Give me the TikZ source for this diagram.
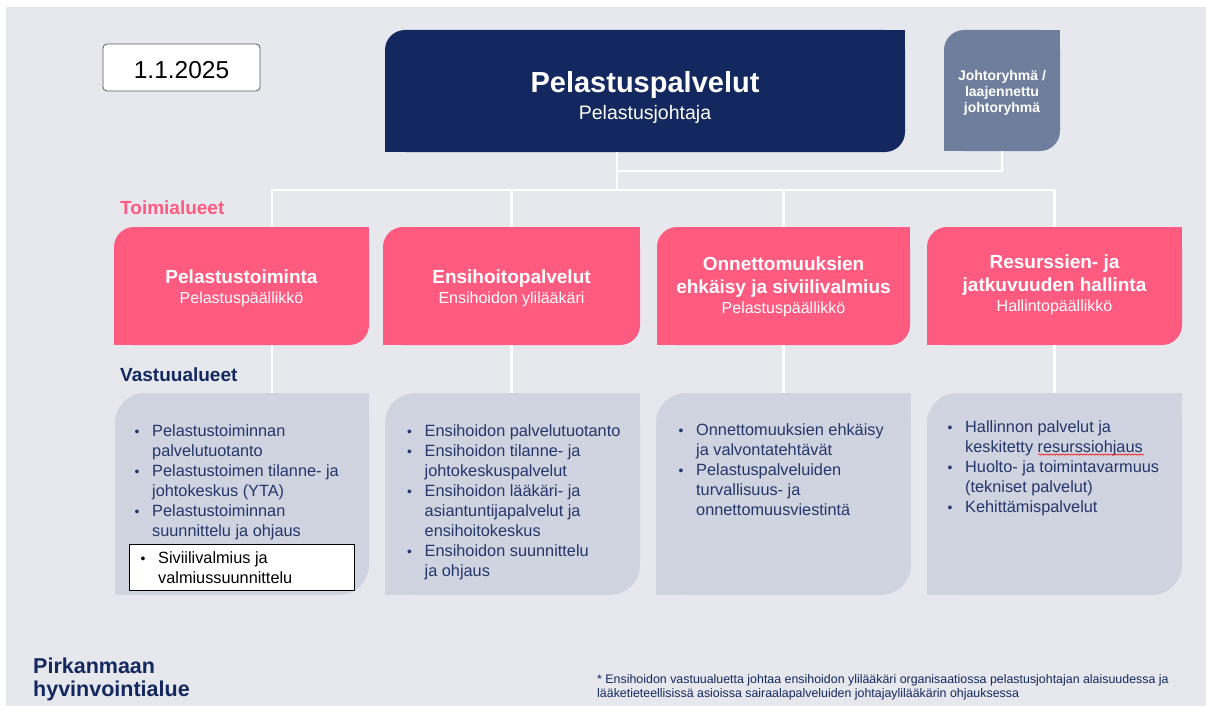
\documentclass[tikz,border=0pt]{standalone}
\usepackage{fontspec}
\setmainfont{Liberation Sans}
\usepackage{graphicx}
\usetikzlibrary{decorations.pathmorphing}
\definecolor{bgc}{HTML}{E7E8EE}
\definecolor{navyc}{HTML}{13285E}
\definecolor{jrc}{HTML}{6F7E9C}
\definecolor{pinkc}{HTML}{FF5A80}
\definecolor{grayc}{HTML}{D0D4E0}
\definecolor{txtc}{HTML}{24366A}
\newcommand\bl{\makebox[16pt][l]{\hspace*{-1.5pt}\scalebox{0.85}{\textbullet}}}
\begin{document}
\begin{tikzpicture}[x=1pt,y=-1pt,
  box/.style 2 args={rectangle,inner sep=0pt,outer sep=0pt,minimum width=#1,minimum height=#2},
  tlbr/.style 2 args={path picture={
    \fill[#1,rounded corners=#2] (path picture bounding box.south west) rectangle (path picture bounding box.north east);
    \fill[#1] (path picture bounding box.north east) rectangle ++(-#2,-#2);
    \fill[#1] (path picture bounding box.south west) rectangle ++(#2,#2);}},
  conn/.style={draw=white,line width=2.2pt},
  ttl/.style={text=white,font=\fontsize{19}{23}\selectfont\bfseries,anchor=base,inner sep=0pt},
  sub/.style={text=white,font=\fontsize{16}{20}\selectfont,anchor=base,inner sep=0pt},
  jrt/.style={text=white,font=\fontsize{14}{17}\selectfont\bfseries,anchor=base,inner sep=0pt},
  lst/.style={text=txtc,font=\fontsize{16.3}{20}\selectfont,anchor=base west,inner sep=0pt},
  hdr/.style={font=\fontsize{19}{23}\selectfont\bfseries,anchor=base west,inner sep=0pt},
  foot/.style={text=navyc,font=\fontsize{21.5}{23}\selectfont\bfseries,anchor=base west,inner sep=0pt},
  note/.style={text=navyc,font=\fontsize{12.4}{14}\selectfont,anchor=base west,inner sep=0pt}
]
\useasboundingbox (0,0) rectangle (1206,706);
\fill[white] (0,0) rectangle (1206,706);
\fill[bgc] (6,7) rectangle (1206,706);

% date
\node[box={157pt}{47pt},fill=white,draw=black!65,line width=0.8pt,rounded corners=4pt] (date) at (181.5,67.5) {};
\node[anchor=base,inner sep=0pt,font=\fontsize{24.5}{26}\selectfont] (dateT) at (181.5,79) {1.1.2025};

% main
\node[box={520pt}{122pt},tlbr={navyc}{20pt}] (main) at (645,91) {};
\node[text=white,anchor=base,inner sep=0pt,font=\fontsize{29}{32}\selectfont\bfseries] (mainA) at (645,93) {Pelastuspalvelut};
\node[text=white,anchor=base,inner sep=0pt,font=\fontsize{19.5}{22}\selectfont] (mainB) at (645,119) {Pelastusjohtaja};

% johtoryhma
\node[box={116pt}{121pt},tlbr={jrc}{20pt}] (jr) at (1002,90.5) {};
\node[jrt] (jrA) at (1002,81) {Johtoryhmä /};
\node[jrt] (jrB) at (1002,97) {laajennettu};
\node[jrt] (jrC) at (1002,113) {johtoryhmä};

% pink boxes
\node[box={255pt}{118pt},tlbr={pinkc}{20pt}] (p1) at (241.5,286) {};
\node[box={257pt}{118pt},tlbr={pinkc}{20pt}] (p2) at (511.5,286) {};
\node[box={253pt}{118pt},tlbr={pinkc}{20pt}] (p3) at (783.5,286) {};
\node[box={255pt}{118pt},tlbr={pinkc}{20pt}] (p4) at (1054.5,286) {};

\node[ttl] (p1a) at (241.5,283) {Pelastustoiminta};
\node[sub] (p1b) at (241.5,303) {Pelastuspäällikkö};
\node[ttl] (p2a) at (511.5,283) {Ensihoitopalvelut};
\node[sub] (p2b) at (511.5,303) {Ensihoidon ylilääkäri};
\node[ttl] (p3a) at (783.5,270) {Onnettomuuksien};
\node[ttl] (p3b) at (783.5,293) {ehkäisy ja siviilivalmius};
\node[sub] (p3c) at (783.5,313) {Pelastuspäällikkö};
\node[ttl] (p4a) at (1054.5,268) {Resurssien- ja};
\node[ttl] (p4b) at (1054.5,291) {jatkuvuuden hallinta};
\node[sub] (p4c) at (1054.5,311) {Hallintopäällikkö};

% gray boxes
\node[box={254pt}{202pt},tlbr={grayc}{30pt}] (g1) at (242,494) {};
\node[box={255pt}{202pt},tlbr={grayc}{30pt}] (g2) at (512.5,494) {};
\node[box={255pt}{202pt},tlbr={grayc}{30pt}] (g3) at (783.5,494) {};
\node[box={255pt}{202pt},tlbr={grayc}{30pt}] (g4) at (1054.5,494) {};

% connectors
\coordinate (hub) at (617,190);
\coordinate (jrjoin) at (617,171);
\coordinate (x1) at (272,0);
\draw[conn] (main.south -| hub) -- (hub);
\draw[conn] (jr.south) |- (jrjoin);
\draw[conn] (p1.north -| x1) |- (hub) -| (p4.north);
\draw[conn] (hub -| p2.north) -- (p2.north);
\draw[conn] (hub -| p3.north) -- (p3.north);
\draw[conn] (p1.south -| x1) -- (g1.north -| x1);
\draw[conn] (p2.south) -- (p2.south |- g2.north);
\draw[conn] (p3.south) -- (p3.south |- g3.north);
\draw[conn] (p4.south) -- (p4.south |- g4.north);

% headers
\node[hdr,text=pinkc] (toim) at (120,214) {Toimialueet};
\node[hdr,text=navyc] (vast) at (120,381) {Vastuualueet};

% lists
\node[lst] (l1) at (136,436) {\begin{tabular}[t]{@{}l@{}l@{}}\bl&Pelastustoiminnan\\&palvelutuotanto\\\bl&Pelastustoimen tilanne- ja\\&johtokeskus (YTA)\\\bl&Pelastustoiminnan\\&suunnittelu ja ohjaus\end{tabular}};
\node[box={225pt}{46pt},fill=white,draw=black,line width=0.8pt] (wb) at (241.5,567) {};
\node[lst,text=black] (l1b) at (142,563) {\begin{tabular}[t]{@{}l@{}l@{}}\bl&Siviilivalmius ja\\&valmiussuunnittelu\end{tabular}};
\node[lst] (l2) at (408.5,436) {\begin{tabular}[t]{@{}l@{}l@{}}\bl&Ensihoidon palvelutuotanto\\\bl&Ensihoidon tilanne- ja\\&johtokeskuspalvelut\\\bl&Ensihoidon lääkäri- ja\\&asiantuntijapalvelut ja\\&ensihoitokeskus\\\bl&Ensihoidon suunnittelu\\&ja ohjaus\end{tabular}};
\node[lst] (l3) at (680,435) {\begin{tabular}[t]{@{}l@{}l@{}}\bl&Onnettomuuksien ehkäisy\\&ja valvontatehtävät\\\bl&Pelastuspalveluiden\\&turvallisuus- ja\\&onnettomuusviestintä\end{tabular}};
\node[lst] (l4) at (949,432) {\begin{tabular}[t]{@{}l@{}l@{}}\bl&Hallinnon palvelut ja\\&keskitetty resurssiohjaus\\\bl&Huolto- ja toimintavarmuus\\&(tekniset palvelut)\\\bl&Kehittämispalvelut\end{tabular}};
\draw[red,line width=0.5pt,decorate,decoration={snake,amplitude=0.7pt,segment length=3pt}] (1038,454.5) -- (1144,454.5);

% footer
\node[foot] (pk1) at (33,673) {Pirkanmaan};
\node[foot] (pk2) at (33,696) {hyvinvointialue};
\node[note] (fn1) at (597,683) {* Ensihoidon vastuualuetta johtaa ensihoidon ylilääkäri organisaatiossa pelastusjohtajan alaisuudessa ja};
\node[note] (fn2) at (597,697.5) {lääketieteellisissä asioissa sairaalapalveluiden johtajaylilääkärin ohjauksessa};
\end{tikzpicture}
\end{document}
